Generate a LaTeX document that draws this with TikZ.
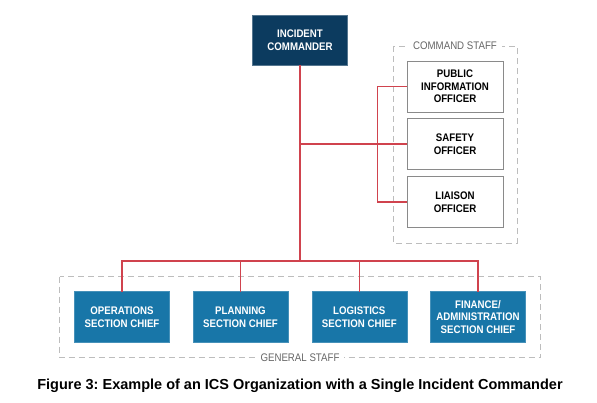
\documentclass[tikz,border=0pt]{standalone}
\usepackage{fontspec}
\setmainfont{Liberation Sans}
\newfontfamily\condfont[FakeStretch=0.88]{Liberation Sans}
\frenchspacing
\begin{document}
\begin{tikzpicture}[x=1pt,y=-1pt,
  every node/.style={inner sep=0pt,outer sep=0pt},
  lbl/.style={font=\condfont\fontsize{11}{12.7}\selectfont\bfseries,align=center},
  icbox/.style={lbl,draw=navy!70!white,line width=0.6pt,fill=navy,text=white,minimum width=95pt,minimum height=50pt},
  csbox/.style={lbl,draw=boxgray,line width=0.8pt,fill=white,text=black,minimum width=96pt,minimum height=51pt},
  gsbox/.style={lbl,draw=secblue!80!white,line width=0.6pt,fill=secblue,text=white,minimum width=95pt,minimum height=51pt},
  link/.style={draw=linkred,line width=1.2pt},
  staff/.style={draw=dashgray,dashed,dash pattern=on 6pt off 4pt,line width=0.8pt},
  stafflbl/.style={font=\condfont\fontsize{11}{12}\selectfont,text=labelgray,fill=white,inner xsep=5pt,inner ysep=1pt},
  caption/.style={font=\fontsize{14.5}{17}\selectfont\bfseries,text=black}]
\definecolor{navy}{HTML}{0C3B5F}
\definecolor{secblue}{HTML}{1876A8}
\definecolor{linkred}{HTML}{D0434E}
\definecolor{boxgray}{HTML}{8A8A8A}
\definecolor{dashgray}{HTML}{BDBDBD}
\definecolor{labelgray}{HTML}{666666}
\useasboundingbox (0,0) rectangle (597,402);
% staff frames
\draw[staff] (393,46) rectangle (517,243);
\draw[staff] (59.5,276.5) rectangle (540.5,357.5);
\node[stafflbl] (cslbl) at (455,46) {COMMAND STAFF};
\node[stafflbl] (gslbl) at (300,357.5) {GENERAL STAFF};
% nodes
\node[icbox] (ic) at (300,40) {INCIDENT\\COMMANDER};
\node[csbox] (pio) at (455,86.5) {PUBLIC\\INFORMATION\\OFFICER};
\node[csbox] (safety) at (455,144) {SAFETY\\OFFICER};
\node[csbox] (liaison) at (455,202) {LIAISON\\OFFICER};
\node[gsbox] (ops) at (122,317) {OPERATIONS\\SECTION CHIEF};
\node[gsbox] (plan) at (240.5,317) {PLANNING\\SECTION CHIEF};
\node[gsbox] (log) at (359.3,317) {LOGISTICS\\SECTION CHIEF};
\node[gsbox] (fin) at (478,317) {FINANCE/\\ADMINISTRATION\\SECTION CHIEF};
\coordinate (bus) at (300,261);
\coordinate (csbus) at (377.5,144);
% connectors
\draw[link] (ic.south) -- (bus);
\draw[link] (ops.north) |- (bus) -| (fin.north);
\draw[link] (plan.north) -- (plan.north |- bus);
\draw[link] (log.north) -- (log.north |- bus);
\draw[link] (ic.south |- safety.west) -- (safety.west);
\draw[link] (pio.west) -| (csbus) |- (liaison.west);
% caption
\node[caption] (cap) at (300,385.5) {Figure 3: Example of an ICS Organization with a Single Incident Commander};
\end{tikzpicture}
\end{document}
